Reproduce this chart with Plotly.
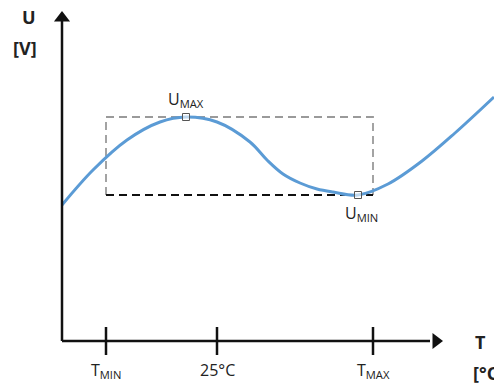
import plotly.graph_objects as go

# Curve U(T) (arbitrary units, origin at axis corner)
t_values = [0, 31, 65, 98, 124, 155, 188, 205, 221, 238, 255, 271, 296, 326, 360, 393, 432]
u_values = [136, 171, 201, 219, 224, 219, 199, 181, 167, 158, 152, 149, 146, 157, 180, 208, 244]

# Tick positions / labels on T axis
tick_t = [44, 155, 311]
tick_labels = ["T<sub>MIN</sub>", "25°C", "T<sub>MAX</sub>"]

# Extremes
u_max_point = (124, 224)
u_min_point = (296, 146)
extreme_labels = ["U<sub>MAX</sub>", "U<sub>MIN</sub>"]

FONT = "Open Sans"
INK = "#222222"

fig = go.Figure()

# Dashed window (T_MIN..T_MAX, U_MIN..U_MAX)
t0, t1 = tick_t[0], tick_t[-1]
fig.add_trace(go.Scatter(
    x=[t0, t0, t1, t1], y=[u_min_point[1], u_max_point[1], u_max_point[1], u_min_point[1]],
    mode="lines", line=dict(color="#9a9a9a", width=1.8, dash="8px,5px"),
    hoverinfo="skip", showlegend=False))
fig.add_trace(go.Scatter(
    x=[t0, t1], y=[u_min_point[1], u_min_point[1]],
    mode="lines", line=dict(color="#111111", width=2, dash="8px,5px"),
    hoverinfo="skip", showlegend=False))

# Curve
fig.add_trace(go.Scatter(
    x=t_values, y=u_values, mode="lines",
    line=dict(color="#5B9BD5", width=3, shape="spline", smoothing=1.0),
    cliponaxis=False, showlegend=False))

# Extreme markers
fig.add_trace(go.Scatter(
    x=[u_max_point[0], u_min_point[0]], y=[u_max_point[1], u_min_point[1]],
    mode="markers",
    marker=dict(symbol="square", size=7, color="rgba(255,255,255,0.6)",
                line=dict(color="#555555", width=1)),
    showlegend=False))

# Axes lines
y_top = 320
x_right = 368
fig.add_trace(go.Scatter(x=[0, 0], y=[0, y_top], mode="lines",
                         line=dict(color="#111111", width=2.5), showlegend=False))
fig.add_trace(go.Scatter(x=[0, x_right], y=[0, 0], mode="lines",
                         line=dict(color="#111111", width=2.5), showlegend=False))
# Arrow heads
fig.add_trace(go.Scatter(x=[0], y=[y_top + 3], mode="markers",
                         marker=dict(symbol="triangle-up", size=14, color="#111111"),
                         cliponaxis=False, showlegend=False))
fig.add_trace(go.Scatter(x=[x_right + 6], y=[0], mode="markers",
                         marker=dict(symbol="triangle-right", size=14, color="#111111"),
                         cliponaxis=False, showlegend=False))

# Tick marks crossing the T axis
for t in tick_t:
    fig.add_shape(type="line", x0=t, x1=t, y0=-14, y1=14,
                  line=dict(color="#111111", width=2.5))

# Tick labels
for t, lab in zip(tick_t, tick_labels):
    fig.add_annotation(x=t, y=-29, text=lab, showarrow=False,
                       font=dict(family=FONT, size=16, color=INK))

# Extreme labels
fig.add_annotation(x=u_max_point[0], y=u_max_point[1] + 18, text=extreme_labels[0],
                   showarrow=False, font=dict(family=FONT, size=16, color=INK))
fig.add_annotation(x=u_min_point[0] + 3, y=u_min_point[1] - 18, text=extreme_labels[1],
                   showarrow=False, font=dict(family=FONT, size=16, color=INK))

# Axis titles
fig.add_annotation(x=-33, y=324, text="<b>U</b>", showarrow=False,
                   font=dict(family=FONT, size=18, color=INK))
fig.add_annotation(x=-37, y=293, text="<b>[V]</b>", showarrow=False,
                   font=dict(family=FONT, size=18, color=INK))
fig.add_annotation(x=418, y=-1, text="<b>T</b>", showarrow=False,
                   font=dict(family=FONT, size=18, color=INK))
fig.add_annotation(x=426, y=-32, text="<b>[°C]</b>", showarrow=False,
                   font=dict(family=FONT, size=18, color=INK))

fig.update_layout(
    width=494, height=383,
    margin=dict(l=0, r=0, t=0, b=0),
    paper_bgcolor="white", plot_bgcolor="white",
    xaxis=dict(range=[-62, 432], visible=False, fixedrange=True),
    yaxis=dict(range=[-42, 341], visible=False, fixedrange=True),
    showlegend=False,
)

fig.write_html("out.html")
